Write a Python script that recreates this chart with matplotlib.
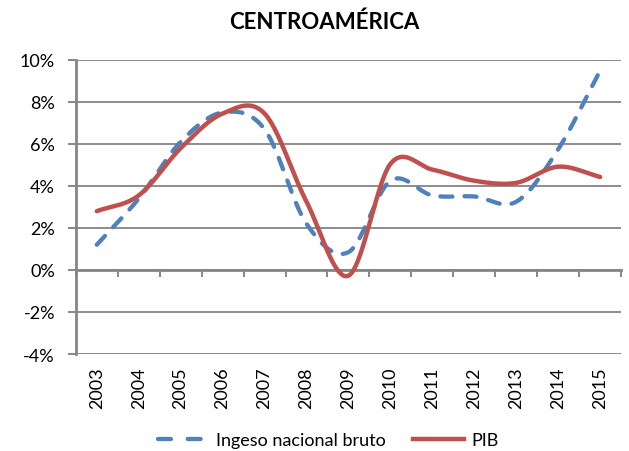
import numpy as np
import matplotlib
matplotlib.use("Agg")
import matplotlib.pyplot as plt
from matplotlib.lines import Line2D

plt.rcParams['font.family'] = ['Lato', 'DejaVu Sans']

years = ['2003', '2004', '2005', '2006', '2007', '2008', '2009',
         '2010', '2011', '2012', '2013', '2014', '2015']
ingreso = [1.2, 3.4, 6.1, 7.5, 6.7, 2.2, 0.85, 4.25, 3.55, 3.5, 3.25, 5.75, 9.5]
pib = [2.8, 3.55, 5.8, 7.45, 7.45, 3.25, -0.27, 5.05, 4.78, 4.25, 4.15, 4.92, 4.43]
yticks = [-4, -2, 0, 2, 4, 6, 8, 10]

BLUE = '#4F81BD'
RED = '#C0504D'
GRAY = '#868686'


def smooth(x, y, n=40):
    x = np.asarray(x, float)
    y = np.asarray(y, float)
    px = np.concatenate([[2 * x[0] - x[1]], x, [2 * x[-1] - x[-2]]])
    py = np.concatenate([[2 * y[0] - y[1]], y, [2 * y[-1] - y[-2]]])
    xs, ys = [], []
    t = np.linspace(0, 1, n)
    for i in range(1, len(px) - 2):
        p0, p1, p2, p3 = (np.array([px[j], py[j]]) for j in (i - 1, i, i + 1, i + 2))
        c1 = p1 + (p2 - p0) / 6.0
        c2 = p2 - (p3 - p1) / 6.0
        b = ((1 - t) ** 3)[:, None] * p1 + (3 * (1 - t) ** 2 * t)[:, None] * c1 \
            + (3 * (1 - t) * t ** 2)[:, None] * c2 + (t ** 3)[:, None] * p2
        xs.append(b[:, 0])
        ys.append(b[:, 1])
    return np.concatenate(xs), np.concatenate(ys)


fig = plt.figure(figsize=(6.29, 4.52), dpi=100)
ax = fig.add_axes([0.1205, 0.2146, 0.867, 0.6505])

xpos = np.arange(len(years))
bx, by = smooth(xpos, ingreso)
rx, ry = smooth(xpos, pib)
ax.plot(bx, by, color=BLUE, lw=3.1, dashes=(2.8, 2.8), dash_capstyle='round', zorder=3)
ax.plot(rx, ry, color=RED, lw=3.2, solid_capstyle='round', zorder=4)

ax.set_xlim(-0.5, len(years) - 0.5)
ax.set_ylim(-4, 10)
ax.set_yticks(yticks)
ax.set_yticklabels([f'{v}%' for v in yticks], fontsize=13)
ax.yaxis.grid(True, color='#8C8C8C', lw=1.4)
ax.set_axisbelow(True)

for s in ['top', 'right']:
    ax.spines[s].set_visible(False)
ax.spines['left'].set_color(GRAY)
ax.spines['left'].set_linewidth(2.0)
ax.spines['bottom'].set_position(('data', 0))
ax.spines['bottom'].set_color(GRAY)
ax.spines['bottom'].set_linewidth(2.0)
ax.tick_params(axis='y', direction='out', length=6, width=1.4, color=GRAY, pad=9)

ax.set_xticks(np.arange(len(years) + 1) - 0.5)
ax.set_xticklabels([])
ax.tick_params(axis='x', direction='out', length=5, width=1.4, color=GRAY)

sec = ax.secondary_xaxis(0.0)
sec.set_xticks(xpos)
sec.set_xticklabels(years, rotation=90, fontsize=13)
sec.tick_params(length=0, pad=9)
sec.spines['bottom'].set_visible(False)

fig.suptitle('CENTROAMÉRICA', fontsize=16, fontweight='bold', x=0.515, y=0.974)

handles = [Line2D([], [], color=BLUE, lw=3.1, dashes=(3.0, 3.9), dash_capstyle='round'),
           Line2D([], [], color=RED, lw=3.2)]
fig.legend(handles, ['Ingeso nacional bruto', 'PIB'], loc='center',
           bbox_to_anchor=(0.522, 0.024), ncol=2, frameon=False, fontsize=13,
           handlelength=2.8, handletextpad=0.45, columnspacing=1.5)

fig.savefig('out.png', dpi=100)
